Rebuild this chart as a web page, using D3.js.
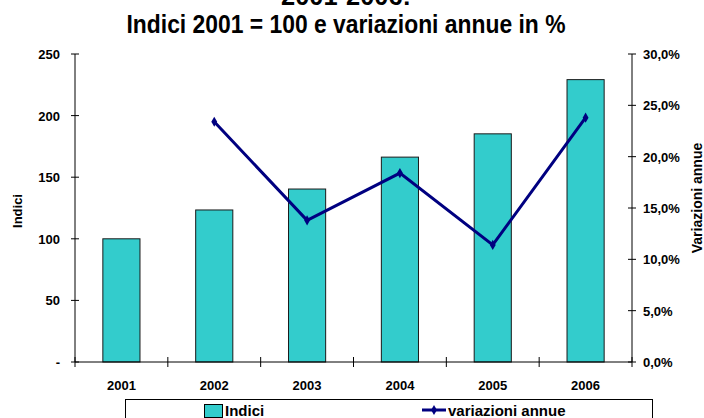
<!DOCTYPE html>
<html><head><meta charset="utf-8">
<script src="https://cdn.jsdelivr.net/npm/d3@7"></script>
<style>body{margin:0;background:#fff}svg{display:block;font-family:Arial,"Liberation Sans",sans-serif}</style>
</head><body><svg id="c" width="704" height="418"></svg>
<script>
const years = ["2001","2002","2003","2004","2005","2006"];
const indici = [100, 123.4, 140.4, 166.3, 185.2, 229.2];
const variazioni = [null, 23.4, 13.8, 18.4, 11.4, 23.8];
const leftTicks = [0, 50, 100, 150, 200, 250];
const rightTicks = [0, 5, 10, 15, 20, 25, 30];
const titleLines = ["2001-2006:", "Indici 2001 = 100 e variazioni annue in %"];

const svg = d3.select("#c");
const L = 75, R = 632, T = 54, B = 362;
const x = d3.scaleBand().domain(years).range([L, R]).paddingInner(0.6).paddingOuter(0.3);
const xc = d => x(d) + x.bandwidth() / 2;
const y = d3.scaleLinear().domain([0, 250]).range([B, T]);
const y2 = d3.scaleLinear().domain([0, 30]).range([B, T]);

// title
svg.append("text").attr("x", 346).attr("y", 5).attr("text-anchor", "middle")
  .attr("font-size", 26).attr("font-weight", "bold").attr("textLength", 130).attr("lengthAdjust", "spacingAndGlyphs").text(titleLines[0]);
svg.append("text").attr("x", 346).attr("y", 33).attr("text-anchor", "middle")
  .attr("font-size", 26).attr("font-weight", "bold").attr("textLength", 439).attr("lengthAdjust", "spacingAndGlyphs").text(titleLines[1]);

// bars
svg.append("g").selectAll("rect").data(indici).join("rect")
  .attr("x", (d, i) => x(years[i])).attr("y", d => y(d))
  .attr("width", x.bandwidth()).attr("height", d => B - y(d))
  .attr("fill", "#33CCCC").attr("stroke", "#1a1a1a").attr("stroke-width", 1);

// axes
const ax = svg.append("g").attr("stroke", "#000").attr("stroke-width", 1);
ax.append("line").attr("x1", L).attr("x2", L).attr("y1", T).attr("y2", B);
ax.append("line").attr("x1", R).attr("x2", R).attr("y1", T).attr("y2", B);
ax.append("line").attr("x1", L).attr("x2", R).attr("y1", B).attr("y2", B);
ax.selectAll(".lt").data(leftTicks).join("line").attr("x1", L - 4).attr("x2", L + 4)
  .attr("y1", d => y(d)).attr("y2", d => y(d));
ax.selectAll(".rt").data(rightTicks).join("line").attr("x1", R - 4).attr("x2", R + 4)
  .attr("y1", d => y2(d)).attr("y2", d => y2(d));
const catTicks = years.map(d => x(d) - x.step() * x.paddingInner() / 2).concat([R]);
ax.selectAll(".ct").data(catTicks).join("line").attr("x1", d => d).attr("x2", d => d)
  .attr("y1", B - 5).attr("y2", B + 5);

const tx = svg.append("g").attr("font-size", 13).attr("font-weight", "bold").attr("fill", "#000");
tx.selectAll(".ll").data(leftTicks).join("text").attr("x", 60).attr("y", d => y(d) + 5)
  .attr("text-anchor", "end").text(d => d === 0 ? "-" : d);
tx.selectAll(".rl").data(rightTicks).join("text").attr("x", 643).attr("y", d => y2(d) + 5)
  .text(d => d.toFixed(1).replace(".", ",") + "%");
tx.selectAll(".cl").data(years).join("text").attr("x", d => xc(d)).attr("y", 390)
  .attr("text-anchor", "middle").text(d => d);
tx.append("text").attr("transform", "translate(22,211) rotate(-90)").attr("text-anchor", "middle").text("Indici");
tx.append("text").attr("transform", "translate(702,198) rotate(-90)").attr("text-anchor", "middle").attr("font-size", 14).text("Variazioni annue");

// line
const pts = years.map((d, i) => [d, variazioni[i]]).filter(p => p[1] !== null);
svg.append("path").datum(pts)
  .attr("d", d3.line().x(p => xc(p[0])).y(p => y2(p[1])))
  .attr("fill", "none").attr("stroke", "#000080").attr("stroke-width", 3);
svg.append("g").selectAll("path").data(pts).join("path")
  .attr("transform", p => `translate(${xc(p[0])},${y2(p[1])})`)
  .attr("d", d3.symbol(d3.symbolDiamond, 30)).attr("fill", "#000080");

// legend
const lg = svg.append("g");
lg.append("rect").attr("x", 125.5).attr("y", 399.5).attr("width", 527).attr("height", 30)
  .attr("fill", "#fff").attr("stroke", "#000");
lg.append("rect").attr("x", 204.5).attr("y", 404.5).attr("width", 18).attr("height", 13)
  .attr("fill", "#33CCCC").attr("stroke", "#000");
lg.append("text").attr("x", 225).attr("y", 416).attr("font-size", 15).attr("font-weight", "bold").text("Indici");
lg.append("line").attr("x1", 422).attr("x2", 446).attr("y1", 410).attr("y2", 410).attr("stroke", "#000080").attr("stroke-width", 3);
lg.append("path").attr("transform", "translate(434,410)").attr("d", d3.symbol(d3.symbolDiamond, 30)).attr("fill", "#000080");
lg.append("text").attr("x", 448).attr("y", 416).attr("font-size", 15).attr("font-weight", "bold").text("variazioni annue");
</script></body></html>
